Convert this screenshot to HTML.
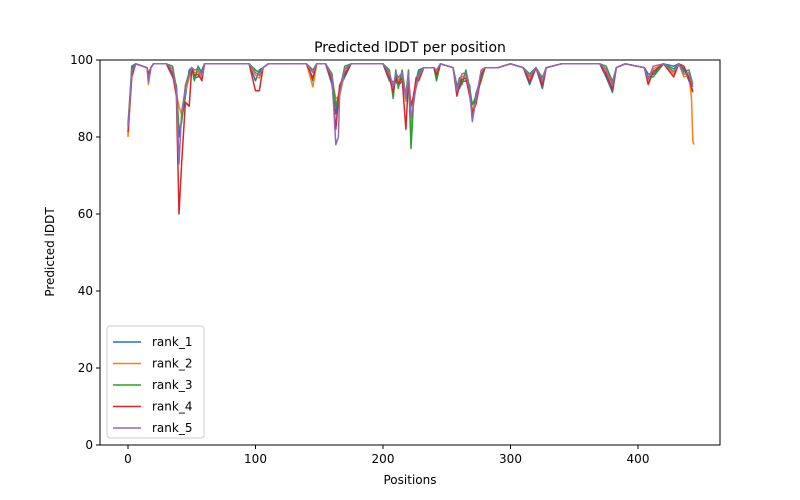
<!DOCTYPE html>
<html><head><meta charset="utf-8"><style>
body{margin:0;background:#fff;}
svg{display:block;font-family:"DejaVu Sans","Liberation Sans",sans-serif;}
</style></head><body>
<svg id="s" width="800" height="500" viewBox="0 0 800 500">
<rect width="800" height="500" fill="#fff"/>
<g id="lines"></g>
<rect x="100" y="60" width="620" height="385" fill="none" stroke="#000" stroke-width="1"/>
<g font-size="12" fill="#000" text-anchor="middle">
<line x1="128" y1="445" x2="128" y2="449" stroke="#000"/><text x="128" y="463">0</text>
<line x1="255.5" y1="445" x2="255.5" y2="449" stroke="#000"/><text x="255.5" y="463">100</text>
<line x1="383" y1="445" x2="383" y2="449" stroke="#000"/><text x="383" y="463">200</text>
<line x1="510.5" y1="445" x2="510.5" y2="449" stroke="#000"/><text x="510.5" y="463">300</text>
<line x1="638" y1="445" x2="638" y2="449" stroke="#000"/><text x="638" y="463">400</text>
</g>
<g font-size="12" fill="#000" text-anchor="end">
<line x1="96" y1="445" x2="100" y2="445" stroke="#000"/><text x="93" y="449">0</text>
<line x1="96" y1="368" x2="100" y2="368" stroke="#000"/><text x="93" y="372">20</text>
<line x1="96" y1="291" x2="100" y2="291" stroke="#000"/><text x="93" y="295">40</text>
<line x1="96" y1="214" x2="100" y2="214" stroke="#000"/><text x="93" y="218">60</text>
<line x1="96" y1="137" x2="100" y2="137" stroke="#000"/><text x="93" y="141">80</text>
<line x1="96" y1="60" x2="100" y2="60" stroke="#000"/><text x="93" y="64">100</text>
</g>
<text x="410" y="484" font-size="12" text-anchor="middle">Positions</text>
<text x="0" y="0" font-size="12" text-anchor="middle" transform="translate(54,252) rotate(-90)">Predicted lDDT</text>
<text x="410" y="52" font-size="14" text-anchor="middle">Predicted lDDT per position</text>
<g id="leg">
<rect x="107" y="326" width="97" height="112" rx="3" fill="#fff" fill-opacity="0.8" stroke="#ccc"/>
</g>
</svg>
<script>
var base=[[0,82],[3,97],[6,99],[15,98],[16,95],[18,98],[20,99],[30,99],[35,97],[38,92],[40,78],[42,85],[45,92],[48,96],[50,98],[52,96],[55,97],[58,96],[60,99],[95,99],[100,96],[103,96],[106,98],[110,99],[140,99],[145,96],[148,99],[155,99],[160,95],[163,87],[166,92],[170,97],[175,99],[200,99],[205,96],[208,93],[210,96],[212,94],[215,96],[218,90],[220,96],[222,82],[224,90],[226,94],[228,96],[232,98],[240,98],[242,96],[245,99],[255,98],[258,92],[260,94],[262,95],[265,96],[268,92],[270,87],[273,90],[277,96],[280,98],[290,98],[300,99],[310,98],[315,95],[320,98],[325,94],[328,98],[340,99],[370,99],[375,97],[380,93],[383,98],[390,99],[405,98],[408,95],[412,97],[420,99],[428,97],[432,99],[436,97],[440,96],[443,93]];
var series=[
 {n:"rank_1",c:"#1f77b4",o:{40:80,163:86,443:92}},
 {n:"rank_2",c:"#ff7f0e",o:{0:80,40:88,145:93,163:90,442:90,443:79,444:78}},
 {n:"rank_3",c:"#2ca02c",o:{40:82,208:90,222:77,163:88}},
 {n:"rank_4",c:"#d62728",o:{40:60,42:73,45:89,48:88,100:92,103:92,163:82,218:82,222:88}},
 {n:"rank_5",c:"#9467bd",o:{40:73,163:78,165:80,270:84,222:85}}];
function X(v){return 128+v*1.275} function Y(v){return 445-v*3.85}
var g=document.getElementById('lines'),ns="http://www.w3.org/2000/svg";
series.forEach(function(s,k){
 var pts={};base.forEach(function(p){pts[p[0]]=p[1]});
 for(var key in s.o)pts[key]=s.o[key];
 var xs=Object.keys(pts).map(Number).sort(function(a,b){return a-b});
 var d=xs.map(function(x){var v=pts[x];
  if(!(x in s.o)&&v<98){v+=(((x*13+k*7)%5)-2)*0.7;}
  if(v>99)v=99;
  return X(x).toFixed(1)+","+Y(v).toFixed(1)}).join(" ");
 var pl=document.createElementNS(ns,"polyline");pl.setAttribute("points",d);pl.setAttribute("fill","none");pl.setAttribute("stroke",s.c);pl.setAttribute("stroke-width","1.5");pl.setAttribute("stroke-linejoin","round");g.appendChild(pl);
 var L=document.getElementById('leg'),y=342+k*21.5;
 var ln=document.createElementNS(ns,"line");ln.setAttribute("x1",113);ln.setAttribute("x2",141);ln.setAttribute("y1",y);ln.setAttribute("y2",y);ln.setAttribute("stroke",s.c);ln.setAttribute("stroke-width","1.5");L.appendChild(ln);
 var t=document.createElementNS(ns,"text");t.setAttribute("x",152);t.setAttribute("y",y+4);t.setAttribute("font-size","12");t.textContent=s.n;L.appendChild(t);
});
</script>
</body></html>
